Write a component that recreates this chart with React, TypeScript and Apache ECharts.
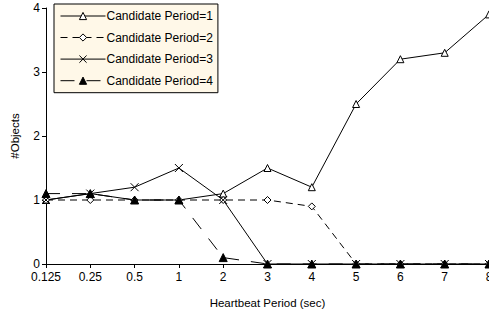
import React, { useEffect, useRef } from "react";
import * as echarts from "echarts";

const categories = ["0.125", "0.25", "0.5", "1", "2", "3", "4", "5", "6", "7", "8"];
const seriesNames = ["Candidate Period=1", "Candidate Period=2", "Candidate Period=3", "Candidate Period=4"];
const period1 = [1.0, 1.1, 1.0, 1.0, 1.1, 1.5, 1.2, 2.5, 3.2, 3.3, 3.9];
const period2 = [1.0, 1.0, 1.0, 1.0, 1.0, 1.0, 0.9, 0, 0, 0, 0];
const period3 = [1.0, 1.1, 1.2, 1.5, 1.0, 0, 0, 0, 0, 0, 0];
const period4 = [1.1, 1.1, 1.0, 1.0, 0.1, 0, 0, 0, 0, 0, 0];

const FONT = "Liberation Sans, Arial, sans-serif";

export default function App() {
  const ref = useRef<HTMLDivElement>(null);
  useEffect(() => {
    document.body.style.margin = "0";
    const chart = echarts.init(ref.current!, null, { renderer: "svg" });
    const base = {
      type: "line",
      showAllSymbol: true,
      z: 3,
    };
    chart.setOption({
      animation: false,
      backgroundColor: "#fff",
      textStyle: { fontFamily: FONT, color: "#000" },
      grid: { left: 46, right: 0, top: 8, bottom: 52, containLabel: false, outerBoundsMode: "none" },
      legend: {
        left: 54,
        top: 4,
        orient: "vertical",
        backgroundColor: "#FFF8E8",
        borderColor: "#000",
        borderWidth: 1,
        borderRadius: 0,
        padding: [6, 5, 6, 6],
        itemGap: 9.5,
        itemWidth: 45,
        itemHeight: 9,
        lineStyle: { width: 1 },
        itemStyle: { borderWidth: 1 },
        textStyle: { fontFamily: FONT, fontSize: 12, color: "#000", padding: [0, 0, 0, -4] },
        data: seriesNames,
      },
      xAxis: {
        type: "category",
        data: categories,
        boundaryGap: false,
        name: "Heartbeat Period (sec)",
        nameLocation: "middle",
        nameGap: 33,
        nameTextStyle: { fontFamily: FONT, fontSize: 11.5, color: "#000" },
        axisLine: { lineStyle: { color: "#000", width: 1 } },
        axisTick: { show: true, alignWithLabel: true, length: 4, lineStyle: { color: "#000" } },
        axisLabel: { fontFamily: FONT, fontSize: 12, color: "#000", margin: 7, showMaxLabel: true },
        splitLine: { show: false },
      },
      yAxis: {
        type: "value",
        min: 0,
        max: 4,
        interval: 1,
        name: "#Objects",
        nameLocation: "middle",
        nameGap: 25,
        nameTextStyle: { fontFamily: FONT, fontSize: 11.5, color: "#000" },
        axisLine: { show: true, lineStyle: { color: "#000", width: 1 } },
        axisTick: { show: true, length: 4, lineStyle: { color: "#000" } },
        axisLabel: { fontFamily: FONT, fontSize: 12, color: "#000", margin: 6 },
        splitLine: { show: false },
      },
      series: [
        {
          ...base,
          name: seriesNames[0],
          data: period1,
          symbol: "triangle",
          symbolSize: 7,
          itemStyle: { color: "#fff", borderColor: "#000", borderWidth: 1 },
          lineStyle: { color: "#000", width: 1, type: "solid" },
        },
        {
          ...base,
          name: seriesNames[1],
          data: period2,
          symbol: "diamond",
          symbolSize: 7,
          itemStyle: { color: "#fff", borderColor: "#000", borderWidth: 1 },
          lineStyle: { color: "#000", width: 1, type: [7, 5] },
        },
        {
          ...base,
          name: seriesNames[2],
          data: period3,
          symbol: "path://M0,0L10,10M10,0L0,10",
          symbolSize: 8,
          itemStyle: { color: "none", borderColor: "#000", borderWidth: 1 },
          lineStyle: { color: "#000", width: 1, type: "solid" },
        },
        {
          ...base,
          name: seriesNames[3],
          data: period4,
          symbol: "triangle",
          symbolSize: 8,
          itemStyle: { color: "#000", borderColor: "#000", borderWidth: 1 },
          lineStyle: { color: "#000", width: 1, type: [14, 12] },
        },
      ],
    });
    return () => chart.dispose();
  }, []);
  return <div ref={ref} style={{ width: 489, height: 316 }} />;
}
